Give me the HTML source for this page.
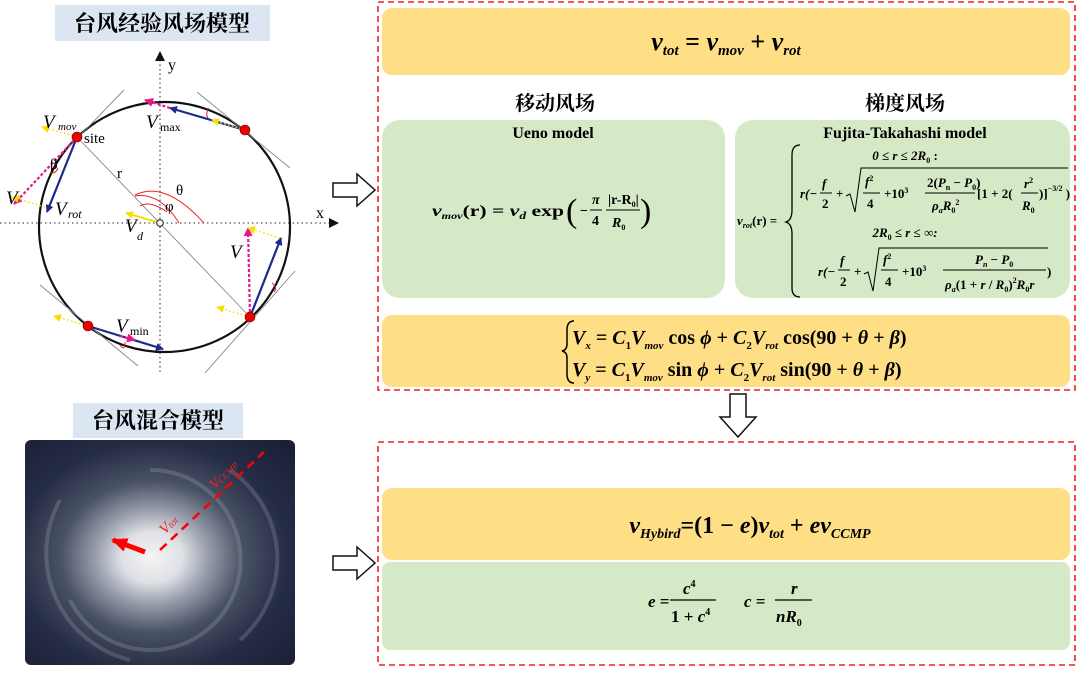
<!DOCTYPE html>
<html><head><meta charset="utf-8"><style>
html,body{margin:0;padding:0;background:#fff;}
svg{display:block;}
.t{font-family:"Liberation Serif","Noto Serif CJK SC",serif;font-weight:bold;}
.m{font-family:"Liberation Serif",serif;font-weight:bold;font-style:italic;}
.r{font-family:"Liberation Serif",serif;}
</style></head><body>
<svg width="1080" height="673" viewBox="0 0 1080 673" xmlns="http://www.w3.org/2000/svg">
<defs>
<radialGradient id="sw" cx="0.47" cy="0.52" r="0.7">
<stop offset="0" stop-color="#f4f4f4"/>
<stop offset="0.16" stop-color="#dfe1e5"/>
<stop offset="0.3" stop-color="#979dab"/>
<stop offset="0.48" stop-color="#4a5266"/>
<stop offset="0.72" stop-color="#252c45"/>
<stop offset="1" stop-color="#1b2038"/>
</radialGradient>
<marker id="ab" markerWidth="8" markerHeight="8" refX="7" refY="4" orient="auto" markerUnits="userSpaceOnUse"><path d="M0,0 L8,4 L0,8z" fill="#1c2a8c"/></marker>
<marker id="ay" markerWidth="8" markerHeight="8" refX="7" refY="4" orient="auto" markerUnits="userSpaceOnUse"><path d="M0,0 L8,4 L0,8z" fill="#f5e000"/></marker>
<marker id="ap" markerWidth="9" markerHeight="9" refX="8" refY="4.5" orient="auto" markerUnits="userSpaceOnUse"><path d="M0,0 L9,4.5 L0,9z" fill="#e8178a"/></marker>
<marker id="ak" markerWidth="10" markerHeight="10" refX="9" refY="5" orient="auto" markerUnits="userSpaceOnUse"><path d="M0,0 L10,5 L0,10z" fill="#111"/></marker>
<marker id="ar" markerWidth="16" markerHeight="14" refX="14" refY="7" orient="auto" markerUnits="userSpaceOnUse"><path d="M0,0 L16,7 L0,14z" fill="#f00"/></marker>
</defs>

<rect x="55" y="5" width="215" height="36" fill="#dce6f2"/>
<text x="162" y="31" class="t" font-size="22" text-anchor="middle">台风经验风场模型</text>
<rect x="73" y="403" width="170" height="35" fill="#dce6f2"/>
<text x="158" y="428" class="t" font-size="22" text-anchor="middle">台风混合模型</text>

<line x1="0" y1="223" x2="338" y2="223" stroke="#555" stroke-width="1.3" stroke-dasharray="1.5,3" marker-end="url(#ak)"/>
<line x1="160" y1="372" x2="160" y2="52" stroke="#555" stroke-width="1.3" stroke-dasharray="1.5,3" marker-end="url(#ak)"/>
<text x="168" y="70" class="r" font-size="16">y</text>
<text x="316" y="218" class="r" font-size="16">x</text>
<ellipse cx="164.5" cy="227" rx="125.5" ry="125" fill="none" stroke="#111" stroke-width="2.2"/>
<g stroke="#888" stroke-width="0.9">
<line x1="124" y1="90" x2="68" y2="148"/>
<line x1="197" y1="92" x2="290" y2="168"/>
<line x1="40" y1="285" x2="138" y2="366"/>
<line x1="205" y1="373" x2="295" y2="271"/>
<line x1="77" y1="137" x2="250" y2="317"/>
</g>
<g fill="none" stroke="#e22" stroke-width="1">
<path d="M135,196 Q160,192 179,223"/>
<path d="M140,206 Q150,200 167,212"/>
<path d="M135,195 Q165,180 204,223"/>
<path d="M58,168 Q55,175 50,172"/>
<path d="M209,108 Q205,114 208,118"/>
<path d="M272,283 Q278,288 274,292"/>
<path d="M120,345 Q125,352 125,342"/>
</g>
<g stroke-width="2.2" fill="none">
<line x1="77" y1="137" x2="47" y2="212" stroke="#1c2a8c" marker-end="url(#ab)"/>
<line x1="77" y1="137" x2="14" y2="204" stroke="#e8178a" stroke-dasharray="3,2" marker-end="url(#ap)"/>
<line x1="245" y1="130" x2="170" y2="108" stroke="#1c2a8c" marker-end="url(#ab)"/>
<line x1="170" y1="108" x2="145" y2="100" stroke="#e8178a" stroke-dasharray="3,2" marker-end="url(#ap)"/>
<line x1="250" y1="317" x2="281" y2="238" stroke="#1c2a8c" marker-end="url(#ab)"/>
<line x1="250" y1="317" x2="248" y2="228" stroke="#e8178a" stroke-dasharray="3,2" marker-end="url(#ap)"/>
<line x1="88" y1="326" x2="163" y2="349" stroke="#1c2a8c" marker-end="url(#ab)"/>
<line x1="120" y1="336" x2="135" y2="340" stroke="#e8178a" stroke-dasharray="3,2" marker-end="url(#ap)"/>
</g>
<g stroke="#f5e000" stroke-width="1.2" stroke-dasharray="2,2" fill="none">
<line x1="77" y1="137" x2="42" y2="127" marker-end="url(#ay)"/>
<line x1="45" y1="207" x2="12" y2="197" marker-end="url(#ay)"/>
<line x1="245" y1="130" x2="212" y2="120" marker-end="url(#ay)"/>
<line x1="88" y1="326" x2="54" y2="316" marker-end="url(#ay)"/>
<line x1="250" y1="317" x2="217" y2="307" marker-end="url(#ay)"/>
<line x1="280" y1="238" x2="248" y2="228" marker-end="url(#ay)"/>
<line x1="160" y1="223" x2="126" y2="213" stroke-dasharray="none" stroke-width="2" marker-end="url(#ay)"/>
</g>
<circle cx="160" cy="223" r="3.3" fill="#fff" stroke="#111" stroke-width="1"/>
<g fill="#e00" stroke="#600" stroke-width="0.6">
<circle cx="77" cy="137" r="5"/><circle cx="245" cy="130" r="5"/>
<circle cx="88" cy="326" r="5"/><circle cx="250" cy="317" r="5"/>
</g>
<g class="r" font-size="15">
<text x="84" y="143">site</text>
<text x="117" y="178">r</text>
<text x="176" y="195">θ</text>
<text x="165" y="211">φ</text>
<text x="50" y="169">β</text>
</g>
<g class="r" font-style="italic" font-size="19">
<text x="43" y="128">V</text><text x="58" y="130" font-size="11">mov</text>
<text x="146" y="128">V</text><text x="160" y="131" font-size="12" font-style="normal">max</text>
<text x="6" y="204">V</text>
<text x="55" y="215">V</text><text x="68" y="218" font-size="12">rot</text>
<text x="125" y="232">V</text><text x="137" y="240" font-size="12">d</text>
<text x="230" y="258">V</text>
<text x="116" y="332">V</text><text x="130" y="335" font-size="12" font-style="normal">min</text>
</g>

<rect x="25" y="440" width="270" height="225" fill="url(#sw)" rx="6"/>
<g fill="none" stroke="#c8ccd4" stroke-opacity="0.2" stroke-width="4">
<path d="M150,470 A90,90 0 1 1 70,600"/>
<path d="M230,470 A115,110 0 0 1 240,640"/>
<path d="M60,500 A110,110 0 0 0 130,660"/>
</g>
<line x1="145" y1="552" x2="113" y2="540" stroke="#f00" stroke-width="5" marker-end="url(#ar)"/>
<line x1="160" y1="550" x2="264" y2="452" stroke="#f00" stroke-width="2.5" stroke-dasharray="9,6"/>
<text x="165" y="535" class="r" font-style="italic" font-size="15" fill="#e22" transform="rotate(-45 165 535)">V<tspan font-size="10">tot</tspan></text>
<text x="215" y="490" class="r" font-style="italic" font-size="15" fill="#e22" transform="rotate(-45 215 490)">V<tspan font-size="9">CCMP</tspan></text>

<g fill="#fff" stroke="#111" stroke-width="1.5">
<path d="M333,183 L357,183 L357,174 L375,190 L357,206 L357,197 L333,197z"/>
<path d="M333,556 L357,556 L357,547 L375,563 L357,579 L357,570 L333,570z"/>
<path d="M730,394 L746,394 L746,417 L756,417 L738,437 L720,417 L730,417z"/>
</g>

<rect x="378" y="2" width="697" height="388" fill="none" stroke="#e22" stroke-width="1.6" stroke-dasharray="6,4"/>
<rect x="378" y="442" width="697" height="223" fill="none" stroke="#e22" stroke-width="1.6" stroke-dasharray="6,4"/>

<rect x="382" y="8" width="688" height="67" rx="10" fill="#fedf86"/>
<text x="726" y="50" class="m" font-size="26" text-anchor="middle">v<tspan font-size="15" dy="5">tot</tspan><tspan dy="-5" font-style="normal"> = </tspan>v<tspan font-size="15" dy="5">mov</tspan><tspan dy="-5" font-style="normal"> + </tspan>v<tspan font-size="15" dy="5">rot</tspan></text>

<text x="555" y="110" class="t" font-size="20" text-anchor="middle">移动风场</text>
<text x="905" y="110" class="t" font-size="20" text-anchor="middle">梯度风场</text>

<rect x="382" y="120" width="343" height="178" rx="18" fill="#d6e9c6"/>
<rect x="735" y="120" width="335" height="178" rx="18" fill="#d6e9c6"/>
<text x="553" y="138" class="t" font-size="16" text-anchor="middle">Ueno model</text>
<text x="905" y="138" class="t" font-size="16" text-anchor="middle">Fujita-Takahashi model</text>

<g class="m" font-size="14">
<text x="432" y="216" font-size="16" textLength="132" lengthAdjust="spacingAndGlyphs">v<tspan font-size="9" dy="3">mov</tspan><tspan dy="-3" font-style="normal">(r) = </tspan>v<tspan font-size="10" dy="3">d</tspan><tspan dy="-3" font-style="normal"> exp</tspan></text>
<text x="566" y="222" font-size="34" font-style="normal" font-weight="normal">(</text>
<text x="580" y="215" font-style="normal">−</text>
<text x="592" y="204">π</text><line x1="590" y1="210" x2="602" y2="210" stroke="#000" stroke-width="1"/><text x="592" y="225" font-style="normal">4</text>
<text x="608" y="204" font-style="normal">|r-R<tspan font-size="8" dy="3">0</tspan><tspan dy="-3">|</tspan></text>
<line x1="606" y1="210" x2="640" y2="210" stroke="#000" stroke-width="1"/>
<text x="612" y="227">R<tspan font-size="8" dy="3" font-style="normal">0</tspan></text>
<text x="640" y="222" font-size="34" font-style="normal" font-weight="normal">)</text>
</g>

<g class="m" font-size="13">
<text x="737" y="225">v<tspan font-size="8" dy="3">rot</tspan><tspan dy="-3" font-style="normal">(r) =</tspan></text>
<path d="M800,145 Q792,145 792,155 L792,210 Q792,220 786,222 Q792,224 792,234 L792,288 Q792,297 800,297" fill="none" stroke="#000" stroke-width="1.3"/>
<text x="905" y="160" text-anchor="middle">0 ≤ r ≤ 2R<tspan font-size="8" dy="3" font-style="normal">0</tspan><tspan dy="-3" font-style="normal"> :</tspan></text>
<text x="800" y="198">r(−</text>
<text x="822" y="188">f</text><line x1="820" y1="193" x2="832" y2="193" stroke="#000"/><text x="822" y="208" font-style="normal">2</text>
<text x="836" y="198" font-style="normal">+</text>
<path d="M846,196 L850,194 L855,212 L861,168 L1068,168" fill="none" stroke="#000" stroke-width="1"/>
<text x="865" y="186">f<tspan font-size="8" dy="-5" font-style="normal">2</tspan></text><line x1="863" y1="193" x2="880" y2="193" stroke="#000"/><text x="867" y="208" font-style="normal">4</text>
<text x="884" y="198" font-style="normal">+10<tspan font-size="8" dy="-5">3</tspan></text>
<text x="927" y="187" font-style="normal">2(<tspan font-style="italic">P</tspan><tspan font-size="8" dy="3">n</tspan><tspan dy="-3"> − </tspan><tspan font-style="italic">P</tspan><tspan font-size="8" dy="3">0</tspan><tspan dy="-3">)</tspan></text>
<line x1="925" y1="193" x2="975" y2="193" stroke="#000"/>
<text x="932" y="210">ρ<tspan font-size="8" dy="3">a</tspan><tspan dy="-3">R</tspan><tspan font-size="8" dy="3" font-style="normal">0</tspan><tspan font-size="8" dy="-8" font-style="normal">2</tspan></text>
<text x="977" y="198" font-style="normal">[1 + 2(</text>
<text x="1024" y="188">r<tspan font-size="8" dy="-5" font-style="normal">2</tspan></text><line x1="1021" y1="193" x2="1038" y2="193" stroke="#000"/><text x="1022" y="210">R<tspan font-size="8" dy="3" font-style="normal">0</tspan></text>
<text x="1039" y="198" font-style="normal">)]<tspan font-size="8" dy="-7">−3/2</tspan><tspan dy="7"> )</tspan></text>
<text x="905" y="237" text-anchor="middle">2R<tspan font-size="8" dy="3" font-style="normal">0</tspan><tspan dy="-3"> ≤ r ≤ ∞:</tspan></text>
<text x="818" y="276">r(−</text>
<text x="840" y="265">f</text><line x1="838" y1="270" x2="850" y2="270" stroke="#000"/><text x="840" y="286" font-style="normal">2</text>
<text x="854" y="276" font-style="normal">+</text>
<path d="M864,274 L868,272 L873,291 L879,248 L1048,248" fill="none" stroke="#000" stroke-width="1"/>
<text x="883" y="264">f<tspan font-size="8" dy="-5" font-style="normal">2</tspan></text><line x1="881" y1="270" x2="898" y2="270" stroke="#000"/><text x="885" y="286" font-style="normal">4</text>
<text x="902" y="276" font-style="normal">+10<tspan font-size="8" dy="-5">3</tspan></text>
<text x="975" y="264">P<tspan font-size="8" dy="3">n</tspan><tspan dy="-3" font-style="normal"> − </tspan>P<tspan font-size="8" dy="3" font-style="normal">0</tspan></text>
<line x1="943" y1="270" x2="1046" y2="270" stroke="#000"/>
<text x="945" y="289">ρ<tspan font-size="8" dy="3">a</tspan><tspan dy="-3" font-style="normal">(1 + </tspan>r<tspan font-style="normal"> / </tspan>R<tspan font-size="8" dy="3" font-style="normal">0</tspan><tspan dy="-3" font-style="normal">)</tspan><tspan font-size="8" dy="-6" font-style="normal">2</tspan><tspan dy="6">R</tspan><tspan font-size="8" dy="3" font-style="normal">0</tspan><tspan dy="-3">r</tspan></text>
<text x="1047" y="276" font-style="normal">)</text>
</g>

<rect x="382" y="315" width="688" height="72" rx="10" fill="#fedf86"/>
<path d="M574,321 Q567,321 567,330 L567,344 Q567,350 562,351 Q567,352 567,358 L567,374 Q567,383 574,383" fill="none" stroke="#000" stroke-width="1.5"/>
<g class="m" font-size="20">
<text x="572" y="344">V<tspan font-size="11" dy="5">x</tspan><tspan dy="-5" font-style="normal"> = </tspan>C<tspan font-size="11" dy="5" font-style="normal">1</tspan><tspan dy="-5">V</tspan><tspan font-size="11" dy="5">mov</tspan><tspan dy="-5" font-style="normal"> cos </tspan>ϕ<tspan font-style="normal"> + </tspan>C<tspan font-size="11" dy="5" font-style="normal">2</tspan><tspan dy="-5">V</tspan><tspan font-size="11" dy="5">rot</tspan><tspan dy="-5" font-style="normal"> cos(90 + </tspan>θ<tspan font-style="normal"> + </tspan>β<tspan font-style="normal">)</tspan></text>
<text x="572" y="376">V<tspan font-size="11" dy="5">y</tspan><tspan dy="-5" font-style="normal"> = </tspan>C<tspan font-size="11" dy="5" font-style="normal">1</tspan><tspan dy="-5">V</tspan><tspan font-size="11" dy="5">mov</tspan><tspan dy="-5" font-style="normal"> sin </tspan>ϕ<tspan font-style="normal"> + </tspan>C<tspan font-size="11" dy="5" font-style="normal">2</tspan><tspan dy="-5">V</tspan><tspan font-size="11" dy="5">rot</tspan><tspan dy="-5" font-style="normal"> sin(90 + </tspan>θ<tspan font-style="normal"> + </tspan>β<tspan font-style="normal">)</tspan></text>
</g>

<rect x="382" y="488" width="688" height="72" rx="10" fill="#fedf86"/>
<rect x="382" y="562" width="688" height="88" rx="8" fill="#d6e9c6"/>
<text x="750" y="533" class="m" font-size="24" text-anchor="middle">v<tspan font-size="14" dy="5">Hybird</tspan><tspan dy="-5" font-style="normal">=(1 − </tspan>e<tspan font-style="normal">)</tspan>v<tspan font-size="14" dy="5">tot</tspan><tspan dy="-5" font-style="normal"> + </tspan>ev<tspan font-size="14" dy="5">CCMP</tspan></text>
<g class="m" font-size="17">
<text x="648" y="607">e<tspan font-style="normal"> =</tspan></text>
<text x="683" y="594">c<tspan font-size="10" dy="-7" font-style="normal">4</tspan></text>
<line x1="670" y1="600" x2="716" y2="600" stroke="#000" stroke-width="1.2"/>
<text x="671" y="622" font-style="normal">1 + <tspan font-style="italic">c</tspan><tspan font-size="10" dy="-7">4</tspan></text>
<text x="744" y="607">c<tspan font-style="normal"> =</tspan></text>
<text x="791" y="594">r</text>
<line x1="775" y1="600" x2="812" y2="600" stroke="#000" stroke-width="1.2"/>
<text x="776" y="622">nR<tspan font-size="10" dy="4" font-style="normal">0</tspan></text>
</g>
</svg>
</body></html>
